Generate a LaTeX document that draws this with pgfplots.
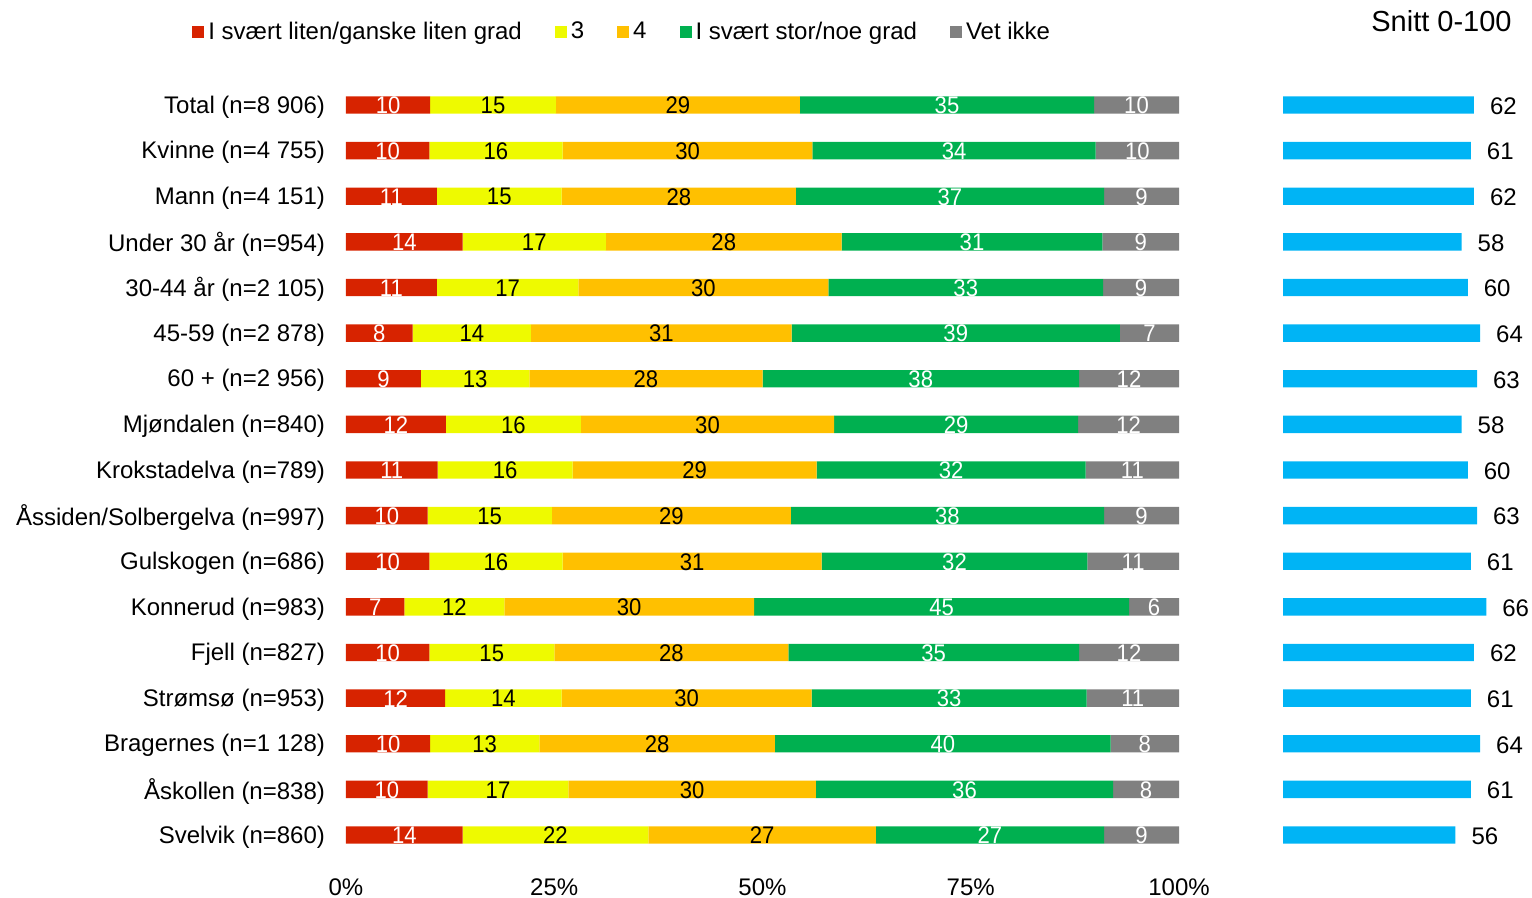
\documentclass[border=0pt]{standalone}
\usepackage{pgfplots}
\pgfplotsset{compat=1.18}
\usepackage{pgfplotstable}
\usepackage{fontspec}
\setmainfont{Liberation Sans}
\newfontfamily\narrowfont[FakeStretch=0.92]{Liberation Sans}
\definecolor{cRed}{HTML}{D72300}
\definecolor{cYel}{HTML}{EEFA00}
\definecolor{cOra}{HTML}{FFC000}
\definecolor{cGre}{HTML}{00B050}
\definecolor{cGra}{HTML}{808080}
\definecolor{cBlu}{HTML}{00B4F5}

\pgfplotstableread{
i  r     yl    o     g     vi    snitt
0  10.1  15.1  29.3  35.3  10.2  62
1  10.0  16.0  30.0  34.0  10.0  61
2  10.9  15.0  28.1  37.0  9.0   62
3  14.0  17.2  28.3  31.3  9.2   58
4  10.9  17.0  30.0  33.0  9.1   60
5  8.0   14.2  31.3  39.4  7.1   64
6  9.0   13.0  28.0  38.0  12.0  63
7  12.0  16.2  30.4  29.3  12.1  58
8  11.0  16.2  29.3  32.3  11.2  60
9  9.8   14.9  28.7  37.6  9.0   63
10 10.0  16.0  31.1  31.9  11.0  61
11 7.0   12.0  30.0  45.0  6.0   66
12 10.0  15.0  28.1  34.9  12.0  62
13 11.9  14.0  30.0  33.0  11.1  61
14 10.1  13.1  28.3  40.3  8.2   64
15 9.8   16.9  29.7  35.7  7.9   61
16 14.0  22.3  27.3  27.4  9.0   56
}\data

\pgfplotsset{
  seg/.style n args={3}{fill=#1, draw=none,
    nodes near coords={\pgfmathprintnumber[fixed,precision=0]{\pgfplotspointmeta}},
    point meta=explicit,
    every node near coord/.style={anchor=center, inner sep=0pt, text=#3, yshift=-0.3pt,
      font=\narrowfont\fontsize{12}{14}\selectfont}},
}

\begin{document}
\begin{tikzpicture}
\useasboundingbox (0,0) rectangle (766pt,449pt);
\begin{axis}[
  at={(173pt,20.1pt)}, anchor=south west,
  scale only axis, width=416.5pt, height=387.8pt,
  xbar stacked, bar width=8.7pt,
  /pgf/number format/assume math mode=true,
  xmin=0, xmax=100, ymin=-0.5, ymax=16.5, y dir=reverse,
  axis line style={draw=none}, major tick length=0pt,
  xtick={0,25,50,75,100}, xticklabels={0\%,25\%,50\%,75\%,100\%},
  xticklabel style={font=\fontsize{12}{14}\selectfont, yshift=-7pt},
  ytick={0,...,16},
  yticklabels={Total (n=8 906),Kvinne (n=4 755),Mann (n=4 151),Under 30 år (n=954),30-44 år (n=2 105),45-59 (n=2 878),60 + (n=2 956),Mjøndalen (n=840),Krokstadelva (n=789),Åssiden/Solbergelva (n=997),Gulskogen (n=686),Konnerud (n=983),Fjell (n=827),Strømsø (n=953),Bragernes (n=1 128),Åskollen (n=838),Svelvik (n=860)},
  yticklabel style={font=\fontsize{12}{14}\selectfont, xshift=-7pt, yshift=-1pt},
  legend columns=5,
  legend style={at={(axis description cs:0,1)}, anchor=west, xshift=-77pt, yshift=25.1pt,
    draw=none, inner sep=0pt, font=\fontsize{12}{14}\selectfont,
    /tikz/every even column/.append style={column sep=14.5pt}},
  legend image code/.code={\fill[#1] (0pt,-3pt) rectangle (6pt,3pt);},
]
\addplot[seg={cRed}{r}{white}] table[x=r, y=i, meta=r] {\data};
\addplot[seg={cYel}{yl}{black}] table[x=yl, y=i, meta=yl] {\data};
\addplot[seg={cOra}{o}{black}] table[x=o, y=i, meta=o] {\data};
\addplot[seg={cGre}{g}{white}] table[x=g, y=i, meta=g] {\data};
\addplot[seg={cGra}{vi}{white}] table[x=vi, y=i, meta=vi] {\data};
\legend{I svært liten/ganske liten grad, 3, 4, I svært stor/noe grad, Vet ikke}
\end{axis}
\begin{axis}[
  at={(641.5pt,20.1pt)}, anchor=south west,
  scale only axis, width=123.2pt, height=387.8pt,
  xbar, bar width=8.7pt,
  /pgf/number format/assume math mode=true,
  xmin=0, xmax=80, ymin=-0.5, ymax=16.5, y dir=reverse,
  hide axis,
  nodes near coords, point meta=explicit,
  every node near coord/.style={anchor=west, xshift=4.5pt, yshift=-0.5pt, text=black, font=\fontsize{12}{14}\selectfont},
]
\addplot[fill=cBlu, draw=none] table[x=snitt, y=i, meta=snitt] {\data};
\end{axis}
\node[anchor=east, font=\fontsize{14.5}{17}\selectfont, inner sep=0pt] at (756pt,438.5pt) {Snitt 0-100};
\end{tikzpicture}
\end{document}
